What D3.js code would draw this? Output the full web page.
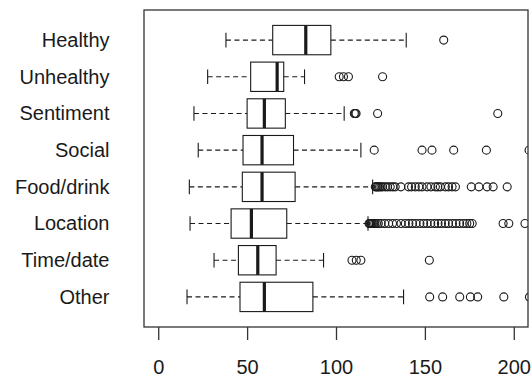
<!DOCTYPE html>
<html>
<head>
<meta charset="utf-8">
<script src="https://cdn.jsdelivr.net/npm/d3@7"></script>
<style>
  html, body { margin: 0; padding: 0; background: #fff; }
  svg { display: block; }
  text { font-family: "Liberation Sans", Arial, Helvetica, sans-serif; fill: #1a1a1a; }
</style>
</head>
<body>
<svg id="chart" width="532" height="379"></svg>
<script>
// Box-and-whisker summary per category (top to bottom)
const categories = ["Healthy", "Unhealthy", "Sentiment", "Social", "Food/drink", "Location", "Time/date", "Other"];
const whiskerLow  = [38.1, 27.8, 20.1, 22.5, 17.5, 17.9, 31.4, 16.2];
const quartile1   = [64.4, 52.0, 50.0, 47.7, 47.3, 41.0, 45.1, 46.0];
const medians     = [83.0, 66.9, 59.7, 58.4, 58.4, 52.4, 56.0, 59.7];
const quartile3   = [97.1, 70.6, 71.5, 76.1, 77.0, 72.3, 66.3, 87.0];
const whiskerHigh = [139.5, 82.3, 104.6, 114.0, 120.6, 118.0, 93.0, 138.0];

const outlierHealthy    = [160.6];
const outlierUnhealthy  = [101.8, 104.2, 107.0, 126.2];
const outlierSentiment  = [110.3, 110.8, 111.3, 123.4, 191.0];
const outlierSocial     = [121.5, 148.4, 154.0, 166.2, 184.6, 208.6];
const outlierFoodDrink  = [122.1, 122.6, 123.2, 123.8, 124.5, 125.3, 126.2, 127.7, 129.0, 130.5, 132.0, 133.3,
                           136.5, 140.8, 142.5, 144.6, 146.6, 148.4, 151.2, 153.4, 155.9, 157.3, 158.7, 161.5,
                           163.3, 165.3, 167.2, 176.1, 180.4, 185.0, 188.4, 196.3];
const outlierLocation   = [118.6, 119.0, 119.4, 119.9, 120.4, 121.0, 121.8, 122.7, 123.8, 125.4, 127.4, 129.6,
                           131.8, 134.0, 136.6, 139.0, 141.0, 143.0, 145.0, 147.2, 149.3, 151.2, 153.3, 155.5,
                           157.4, 159.3, 161.4, 163.3, 165.5, 167.5, 169.5, 171.6, 173.6, 175.2, 176.6, 194.0,
                           197.2, 206.3];
const outlierTimeDate   = [109.0, 111.4, 114.0, 152.5];
const outlierOther      = [152.7, 160.0, 169.6, 175.6, 179.7, 194.4, 208.8];
const outliers = [outlierHealthy, outlierUnhealthy, outlierSentiment, outlierSocial,
                  outlierFoodDrink, outlierLocation, outlierTimeDate, outlierOther];

const tickValues = [0, 50, 100, 150, 200];

const rows = categories.map((c, i) => ({
  cat: c, lo: whiskerLow[i], q1: quartile1[i], med: medians[i],
  q3: quartile3[i], hi: whiskerHigh[i], out: outliers[i]
}));

const frame = { left: 144, right: 528, top: 10, bottom: 327 };
const svg = d3.select("#chart");
const ink = "#1a1a1a";

const x = d3.scaleLinear().domain([-8, 208]).range([frame.left, frame.right]);
const step = (frame.bottom - frame.top) / 8.64;
const y = d3.scalePoint().domain(categories)
  .range([frame.top + 0.82 * step, frame.bottom - 0.82 * step]);
const boxH = 0.8 * step;
const stapleH = 0.5 * boxH;

svg.append("defs").append("clipPath").attr("id", "plot-clip")
  .append("rect")
  .attr("x", frame.left).attr("y", frame.top)
  .attr("width", frame.right - frame.left).attr("height", frame.bottom - frame.top);

const g = svg.append("g");

const row = g.selectAll("g.row").data(rows).join("g")
  .attr("class", "row")
  .attr("transform", d => `translate(0,${y(d.cat)})`);

// dashed whiskers
row.append("line")
  .attr("x1", d => x(d.lo)).attr("x2", d => x(d.q1))
  .attr("stroke", ink).attr("stroke-width", 1.1).attr("stroke-dasharray", "5,3.5");
row.append("line")
  .attr("x1", d => x(d.q3)).attr("x2", d => x(d.hi))
  .attr("stroke", ink).attr("stroke-width", 1.1).attr("stroke-dasharray", "5,3.5");

// staples
row.selectAll("line.staple").data(d => [d.lo, d.hi]).join("line")
  .attr("class", "staple")
  .attr("x1", v => x(v)).attr("x2", v => x(v))
  .attr("y1", -stapleH / 2).attr("y2", stapleH / 2)
  .attr("stroke", ink).attr("stroke-width", 1.1);

// boxes
row.append("rect")
  .attr("x", d => x(d.q1)).attr("width", d => x(d.q3) - x(d.q1))
  .attr("y", -boxH / 2).attr("height", boxH)
  .attr("fill", "#fff").attr("stroke", ink).attr("stroke-width", 1.1);

// medians
row.append("line")
  .attr("x1", d => x(d.med)).attr("x2", d => x(d.med))
  .attr("y1", -boxH / 2).attr("y2", boxH / 2)
  .attr("stroke", ink).attr("stroke-width", 3.2);

// outliers
row.append("g").attr("clip-path", "url(#plot-clip)")
  .attr("transform", d => `translate(0,${-y(d.cat)})`)
  .selectAll("circle").data(d => d.out.map(v => ({ v, cat: d.cat }))).join("circle")
  .attr("cx", p => x(p.v)).attr("cy", p => y(p.cat)).attr("r", 4)
  .attr("fill", "none").attr("stroke", ink).attr("stroke-width", 1.1);

// plot frame
svg.append("rect")
  .attr("x", frame.left).attr("y", frame.top)
  .attr("width", frame.right - frame.left).attr("height", frame.bottom - frame.top)
  .attr("fill", "none").attr("stroke", "#333").attr("stroke-width", 1.3);

// bottom axis
const xAxis = svg.append("g")
  .attr("transform", `translate(0,${frame.bottom})`)
  .call(d3.axisBottom(x).tickValues(tickValues).tickSize(13).tickSizeOuter(0).tickPadding(20));
xAxis.select(".domain").remove();
xAxis.selectAll(".tick line").attr("stroke", "#333").attr("stroke-width", 1.3);
xAxis.selectAll(".tick text").attr("font-size", 20).attr("fill", ink)
  .style("font-family", "'Liberation Sans', Arial, sans-serif");

// category labels
const yAxis = svg.append("g")
  .attr("transform", `translate(${frame.left},0)`)
  .call(d3.axisLeft(y).tickSize(0).tickPadding(34.5));
yAxis.select(".domain").remove();
yAxis.selectAll(".tick text").attr("font-size", 20).attr("fill", ink)
  .style("font-family", "'Liberation Sans', Arial, sans-serif");
</script>
</body>
</html>
